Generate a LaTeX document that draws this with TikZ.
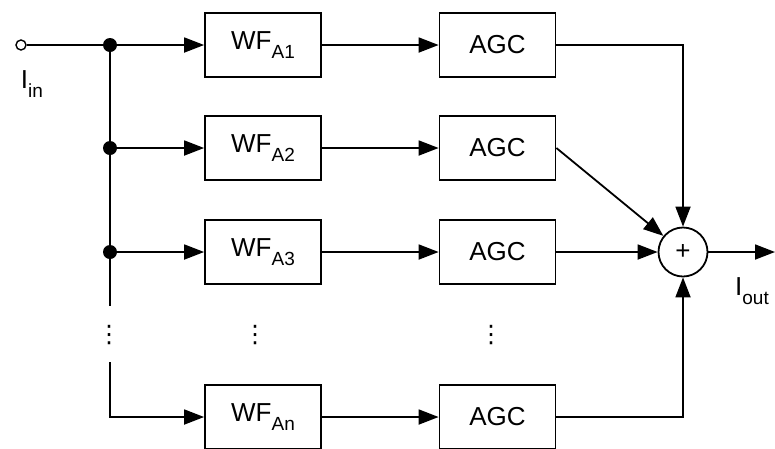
\documentclass[tikz,border=0pt]{standalone}
\usepackage{fontspec}
\setmainfont{Liberation Sans}
\newfontfamily\symfont{DejaVu Sans}
\usetikzlibrary{arrows.meta}
\newcommand{\subtxt}[1]{\raisebox{-0.36em}{\fontsize{19}{20}\selectfont #1}}

\begin{document}
\begin{tikzpicture}[x=1pt,y=-1pt]
  \tikzset{
    block/.style={draw,line width=1.8pt,minimum width=116pt,minimum height=64pt,inner sep=0pt,font=\fontsize{26}{30}\selectfont},
    wire/.style={line width=1.8pt},
    flow/.style={wire,-{Triangle[length=20pt,width=15pt]}},
    junction/.style={circle,fill=black,inner sep=0pt,minimum size=14pt},
    lbl/.style={inner sep=0pt,font=\fontsize{26}{30}\selectfont},
  }
  \useasboundingbox (0,0) rectangle (775,448);

    %INPUT
    \node[circle,draw,line width=1.4pt,fill=white,inner sep=0pt,minimum size=10pt] (in) at (21,45) {};
    \node[lbl] (lin) at (32,84) {I\subtxt{in}};

    %BLOCKS
    \foreach \n/\y/\s in {1/45/A1,2/148/A2,3/252/A3,n/417/An} {
      \node[block] (wf\n) at (263,\y) {WF\subtxt{\s}};
      \node[block] (agc\n) at (497.5,\y) {AGC};
      \draw[flow] (wf\n) -- (agc\n);
    }

    %JUNCTIONS
    \foreach \n/\y in {1/45,2/148,3/252} {
      \node[junction] (j\n) at (110,\y) {};
      \draw[flow] (j\n) -- (wf\n);
    }
    \coordinate (vt) at (110,306);
    \coordinate (vb) at (110,362);
    \coordinate (jn) at (110,417);
    \draw[wire] (in) -- (j1);
    \draw[wire] (j1.center) -- (j3.center) -- (vt);
    \draw[flow] (vb) -- (jn) -- (wfn);

    %SUM
    \node[circle,draw,line width=1.8pt,minimum size=49pt,inner sep=0pt,font=\fontsize{26}{30}\selectfont] (sum) at (683,252) {+};
    \draw[flow] (agc1) -| (sum);
    \draw[flow] (agc2.east) -- (sum);
    \draw[flow] (agc3) -- (sum);
    \draw[flow] (agcn) -| (sum);
    \coordinate (out) at (775,252);
    \draw[flow] (sum) -- (out);
    \node[lbl] (lout) at (752,291) {I\subtxt{out}};

    %DOTS
    \foreach \x in {109,255,491} {
      \node[inner sep=0pt,font=\symfont\fontsize{24}{24}\selectfont] (d\x) at (\x,335) {⋮};
    }
\end{tikzpicture}
\end{document}
